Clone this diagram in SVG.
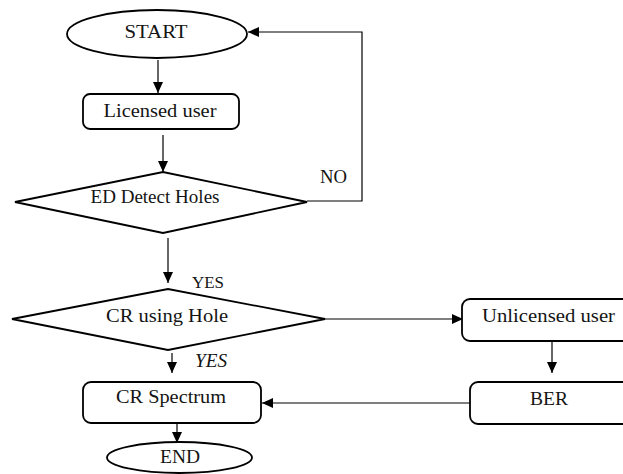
<svg xmlns="http://www.w3.org/2000/svg" width="623" height="474" viewBox="0 0 623 474">
<style>
  .shape { fill: #ffffff; stroke: #000000; stroke-width: 1.8; }
  .conn { fill: none; stroke: #000000; stroke-width: 1.2; }
  .lbl { font-family: 'Liberation Serif', 'DejaVu Serif', serif; font-size: 18px; fill: #141414; }
  .mid { text-anchor: middle; }
</style>
<defs>
  <marker id="ah" markerUnits="userSpaceOnUse" markerWidth="12" markerHeight="12" refX="11" refY="5" orient="auto">
    <path d="M0,0 L11,5 L0,10 Z" fill="#000000"/>
  </marker>
</defs>
<rect width="623" height="474" fill="#ffffff"/>
<g id="connectors">
  <path class="conn" d="M158,60 L158,93" marker-end="url(#ah)"/>
  <path class="conn" d="M163,135 L163,172" marker-end="url(#ah)"/>
  <path class="conn" d="M307,201 L362,201 L362,32 L248,32" marker-end="url(#ah)"/>
  <path class="conn" d="M168,238 L168,283" marker-end="url(#ah)"/>
  <path class="conn" d="M325,319 L463,319" marker-end="url(#ah)"/>
  <path class="conn" d="M172,353 L172,373" marker-end="url(#ah)"/>
  <path class="conn" d="M552,341 L552,373" marker-end="url(#ah)"/>
  <path class="conn" d="M470,403 L262,403" marker-end="url(#ah)"/>
  <path class="conn" d="M177,423 L177,443" marker-end="url(#ah)"/>
  <text class="lbl" x="320" y="183" textLength="27" lengthAdjust="spacingAndGlyphs">NO</text>
  <text class="lbl" x="192" y="288" textLength="32" lengthAdjust="spacingAndGlyphs" style="font-size:16px">YES</text>
  <text class="lbl" x="195" y="367" font-style="italic" textLength="32" lengthAdjust="spacingAndGlyphs">YES</text>
</g>
<g id="start">
  <ellipse class="shape" cx="157" cy="34" rx="90" ry="24"/>
  <text class="lbl mid" x="156" y="38" textLength="63" lengthAdjust="spacingAndGlyphs">START</text>
</g>
<g id="licensed">
  <rect class="shape" x="83" y="94" width="156" height="35" rx="7"/>
  <text class="lbl mid" x="160" y="117" textLength="113" lengthAdjust="spacingAndGlyphs">Licensed user</text>
</g>
<g id="ed-detect">
  <polygon class="shape" points="15,202 163,172 307,202 163,233"/>
  <text class="lbl mid" x="155" y="203" textLength="129" lengthAdjust="spacingAndGlyphs">ED Detect Holes</text>
</g>
<g id="cr-using">
  <polygon class="shape" points="12,319 168,289 325,319 168,350"/>
  <text class="lbl mid" x="167" y="322" textLength="122" lengthAdjust="spacingAndGlyphs">CR using Hole</text>
</g>
<g id="unlicensed">
  <rect class="shape" x="462" y="299" width="170" height="42" rx="8"/>
  <text class="lbl" x="482" y="322" textLength="133" lengthAdjust="spacingAndGlyphs">Unlicensed user</text>
</g>
<g id="cr-spectrum">
  <rect class="shape" x="83" y="382" width="178" height="41" rx="8"/>
  <text class="lbl mid" x="171" y="403" textLength="110" lengthAdjust="spacingAndGlyphs">CR Spectrum</text>
</g>
<g id="ber">
  <rect class="shape" x="470" y="382" width="162" height="42" rx="8"/>
  <text class="lbl" x="530" y="405" textLength="38" lengthAdjust="spacingAndGlyphs">BER</text>
</g>
<g id="end">
  <ellipse class="shape" cx="179.5" cy="457.5" rx="72.5" ry="15.5"/>
  <text class="lbl mid" x="180" y="463" textLength="40" lengthAdjust="spacingAndGlyphs">END</text>
</g>
</svg>
